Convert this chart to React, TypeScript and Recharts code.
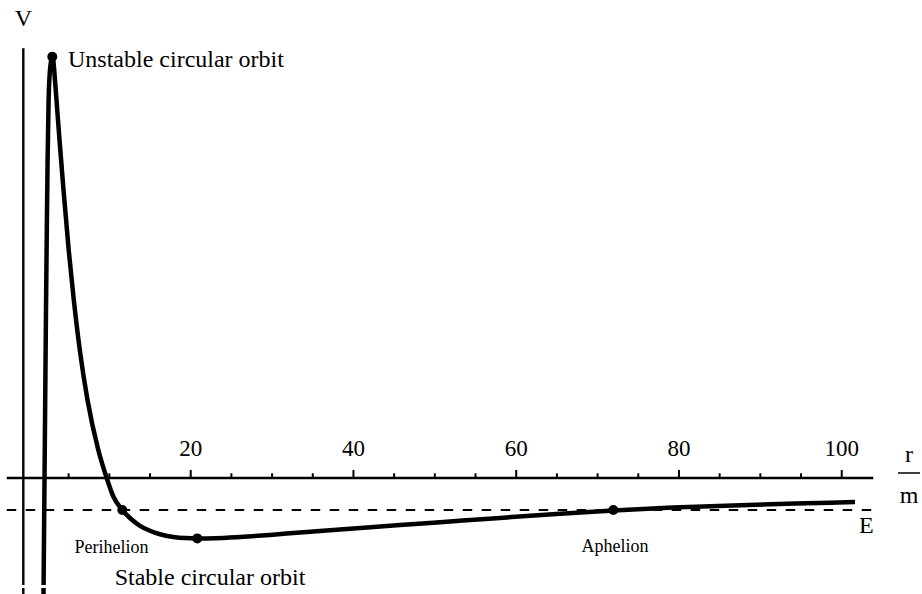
import React from "react";
import { LineChart, Line, XAxis, YAxis, ReferenceLine, ReferenceDot } from "recharts";

// r / m values along the effective-potential curve
const rValues = [
  1.849, 1.886, 1.948, 2.034, 2.12, 2.218, 2.316, 2.415, 2.538, 2.661, 2.82,
  2.992, 3.14, 3.226, 3.508, 3.877, 4.369, 5.008, 5.634, 6.372, 7.318, 8.645,
  9.677, 10.489, 11.595, 12.664, 13.77, 15.0, 16.228, 17.862, 19.299, 20.811,
  22.986, 26.058, 29.745, 33.432, 39.576, 45.72, 51.865, 58.009, 65.382,
  71.933, 79.269, 86.642, 94.261, 101.635,
];
// effective potential V (arbitrary units, 0 at infinity)
const vValues = [
  -0.06615, -0.05462, -0.03154, -0.00077, 0.03, 0.06462, 0.09538, 0.12231,
  0.14538, 0.155, 0.16, 0.16204, 0.16, 0.15692, 0.14538, 0.13, 0.11077,
  0.08769, 0.06846, 0.04923, 0.03, 0.01077, 0.0, -0.00712, -0.01231, -0.01577,
  -0.01838, -0.02031, -0.02165, -0.02269, -0.02312, -0.02323, -0.02315,
  -0.02269, -0.02192, -0.02096, -0.01954, -0.01812, -0.01673, -0.01535,
  -0.01377, -0.0125, -0.01138, -0.01054, -0.00985, -0.00927,
];

const energyLevel = -0.01231;

const markerNames = ["Unstable circular orbit", "Perihelion", "Stable circular orbit", "Aphelion"];
const markerR = [2.992, 11.595, 20.811, 71.933];
const markerV = [0.16204, -0.01231, -0.02323, -0.01231];

const majorTicks = [20, 40, 60, 80, 100];
const minorTicks = [5, 10, 15, 25, 30, 35, 45, 50, 55, 65, 70, 75, 85, 90, 95];

const xAxisStart = -2.61;
const xAxisEnd = 103.88;
const yAxisAt = -0.57;
const yAxisTop = 0.1653;
const breakAt: [number, number] = [0.657, -0.04173];

const X_DOMAIN: [number, number] = [-3.435, 109.865];
const Y_DOMAIN: [number, number] = [-0.04462, 0.18385];

const curveData = rValues.map((r, i) => ({ r, V: vValues[i] }));

const FONT = "'Liberation Serif', 'Times New Roman', serif";

const textShape =
  (label: string, dx: number, dy: number, size: number, anchor: "start" | "middle" | "end") =>
  (props: any) =>
    (
      <text
        x={props.cx + dx}
        y={props.cy + dy}
        fontSize={size}
        fontFamily={FONT}
        textAnchor={anchor}
        fill="#000"
      >
        {label}
      </text>
    );

const fractionShape = (props: any) => (
  <g>
    <text x={props.cx + 35.7} y={props.cy - 16} fontSize={24} fontFamily={FONT} textAnchor="middle" fill="#000">
      r
    </text>
    <line x1={props.cx + 24.7} x2={props.cx + 46.7} y1={props.cy - 5} y2={props.cy - 5} stroke="#000" strokeWidth={1.5} />
    <text x={props.cx + 35.7} y={props.cy + 25} fontSize={24} fontFamily={FONT} textAnchor="middle" fill="#000">
      m
    </text>
  </g>
);

const breakShape = (props: any) => (
  <rect x={props.cx - 14} y={props.cy - 1.5} width={28} height={3} fill="#fff" />
);

const labelOffsets: Array<[number, number, number, "start" | "middle" | "end"]> = [
  [15.7, 10, 24, "start"],
  [-10.8, 43, 18, "middle"],
  [12.7, 46.7, 24, "middle"],
  [1.7, 41.7, 18, "middle"],
];

export default function App() {
  return (
    <div style={{ position: "absolute", left: 0, top: 0, width: 922, height: 594, background: "#fff" }}>
      <LineChart width={922} height={594} margin={{ top: 0, right: 0, bottom: 0, left: 0 }} data={curveData}>
        <XAxis type="number" dataKey="r" domain={X_DOMAIN} hide allowDataOverflow />
        <YAxis type="number" domain={Y_DOMAIN} hide allowDataOverflow />

        {/* horizontal axis */}
        <ReferenceLine
          segment={[
            { x: xAxisStart, y: 0 },
            { x: xAxisEnd, y: 0 },
          ]}
          stroke="#000"
          strokeWidth={2.4}
          ifOverflow="visible"
        />
        {/* vertical axis */}
        <ReferenceLine
          segment={[
            { x: yAxisAt, y: Y_DOMAIN[0] },
            { x: yAxisAt, y: yAxisTop },
          ]}
          stroke="#000"
          strokeWidth={2.4}
          ifOverflow="visible"
        />
        {/* energy level */}
        <ReferenceLine
          segment={[
            { x: xAxisStart, y: energyLevel },
            { x: xAxisEnd, y: energyLevel },
          ]}
          stroke="#000"
          strokeWidth={2}
          strokeDasharray="9.5 9.5"
          ifOverflow="visible"
        />

        {majorTicks.map((t) => (
          <ReferenceLine
            key={"M" + t}
            segment={[
              { x: t, y: 0 },
              { x: t, y: 0.0031 },
            ]}
            stroke="#000"
            strokeWidth={2}
            ifOverflow="visible"
          />
        ))}
        {minorTicks.map((t) => (
          <ReferenceLine
            key={"m" + t}
            segment={[
              { x: t, y: 0 },
              { x: t, y: 0.0018 },
            ]}
            stroke="#000"
            strokeWidth={2}
            ifOverflow="visible"
          />
        ))}
        {majorTicks.map((t) => (
          <ReferenceDot
            key={"L" + t}
            x={t}
            y={0}
            r={0}
            ifOverflow="visible"
            shape={textShape(String(t), 0, -22, 23, "middle")}
          />
        ))}

        <Line
          type="monotone"
          dataKey="V"
          stroke="#000"
          strokeWidth={4.5}
          dot={false}
          activeDot={false}
          isAnimationActive={false}
        />

        {/* small break near the bottom edge of the vertical strokes */}
        <ReferenceDot x={breakAt[0]} y={breakAt[1]} r={0} ifOverflow="visible" shape={breakShape} />

        {markerR.map((r, i) => (
          <ReferenceDot key={"d" + i} x={r} y={markerV[i]} r={5} fill="#000" stroke="none" ifOverflow="visible" />
        ))}
        {markerR.map((r, i) => (
          <ReferenceDot
            key={"t" + i}
            x={r}
            y={markerV[i]}
            r={0}
            ifOverflow="visible"
            shape={textShape(markerNames[i], labelOffsets[i][0], labelOffsets[i][1], labelOffsets[i][2], labelOffsets[i][3])}
          />
        ))}

        <ReferenceDot x={yAxisAt} y={yAxisTop} r={0} ifOverflow="visible" shape={textShape("V", 0.2, -22, 24, "middle")} />
        <ReferenceDot x={xAxisEnd} y={energyLevel} r={0} ifOverflow="visible" shape={textShape("E", -7, 23, 24, "middle")} />
        <ReferenceDot x={xAxisEnd} y={0} r={0} ifOverflow="visible" shape={fractionShape} />
      </LineChart>
    </div>
  );
}
